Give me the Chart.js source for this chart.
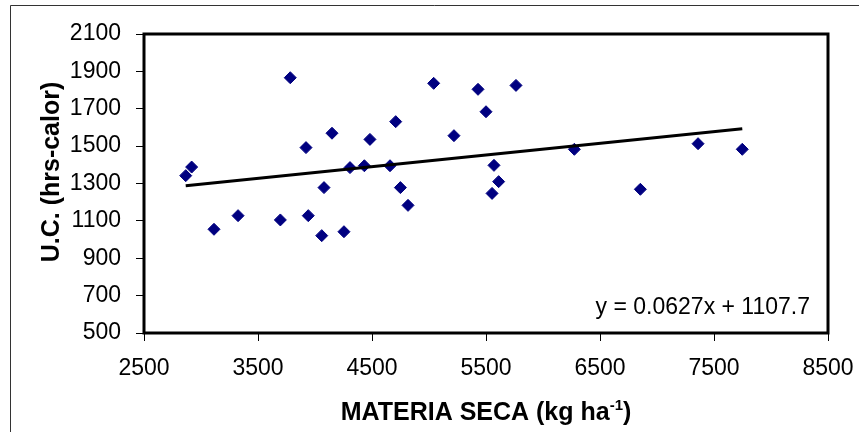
<!DOCTYPE html>
<html>
<head>
<meta charset="utf-8">
<script src="https://cdn.jsdelivr.net/npm/chart.js@4/dist/chart.umd.min.js"></script>
<style>
  html, body { margin: 0; padding: 0; background: #fff; }
  #wrap { width: 859px; height: 432px; }
</style>
</head>
<body>
<div id="wrap"><canvas id="chartCanvas" width="859" height="432"></canvas></div>
<script>
// materia seca (kg/ha) vs unidades calor (hrs-calor)
const materiaSeca = [2866, 2918, 3114, 3325, 3783, 3696, 3921, 3941, 4059, 4079, 4149,
    4254, 4307, 4433, 4482, 4658, 4708, 4749, 4816, 5041, 5219, 5430,
    5500, 5763, 5570, 5611, 5553, 6275, 6854, 7360, 7748];
const unidadesCalor = [1342, 1388, 1055, 1128, 1866, 1105, 1492, 1128, 1021, 1278, 1569,
    1042, 1385, 1395, 1536, 1395, 1631, 1278, 1183, 1836, 1556, 1804,
    1684, 1825, 1397, 1310, 1247, 1483, 1269, 1513, 1483];

// regression shown on the chart
const slope = 0.0627;
const intercept = 1107.7;

const xTicks = [2500, 3500, 4500, 5500, 6500, 7500, 8500];
const yTicks = [500, 700, 900, 1100, 1300, 1500, 1700, 1900, 2100];

const FONT = "'Liberation Sans', Arial, sans-serif";

const points = materiaSeca.map((x, i) => ({x: x, y: unidadesCalor[i]}));
const xMin = Math.min(...materiaSeca);
const xMax = Math.max(...materiaSeca);
const trend = [
    {x: xMin, y: slope * xMin + intercept},
    {x: xMax, y: slope * xMax + intercept},
];

const decorPlugin = {
    id: "decor",
    beforeDraw(chart) {
        const ctx = chart.ctx;
        ctx.save();
        // outer frame (only top and left visible)
        ctx.strokeStyle = "#333";
        ctx.lineWidth = 1;
        ctx.beginPath();
        ctx.moveTo(10.5, chart.height);
        ctx.lineTo(10.5, 5.5);
        ctx.lineTo(chart.width, 5.5);
        ctx.stroke();
        ctx.restore();
    },
    afterDraw(chart) {
        const ctx = chart.ctx;
        const a = chart.chartArea;
        ctx.save();
        ctx.strokeStyle = "#000";
        ctx.lineWidth = 3;
        ctx.strokeRect(a.left, a.top, a.right - a.left, a.bottom - a.top);

        // equation label
        ctx.fillStyle = "#000";
        ctx.font = "23px " + FONT;
        ctx.textAlign = "right";
        ctx.textBaseline = "alphabetic";
        ctx.fillText("y = " + slope + "x + " + intercept, a.right - 18, a.bottom - 19);

        // y axis title
        ctx.save();
        ctx.font = "bold 25px " + FONT;
        ctx.textAlign = "center";
        ctx.textBaseline = "middle";
        ctx.translate(52, 172);
        ctx.rotate(-Math.PI / 2);
        ctx.fillText("U.C. (hrs-calor)", 0, 0);
        ctx.restore();

        // x axis title with superscript
        const main = "MATERIA SECA (kg ha";
        const sup = "-1";
        const close = ")";
        const bigFont = "bold 25px " + FONT;
        const smallFont = "bold 15px " + FONT;
        ctx.font = bigFont;
        const w1 = ctx.measureText(main).width;
        const w3 = ctx.measureText(close).width;
        ctx.font = smallFont;
        const w2 = ctx.measureText(sup).width;
        const total = w1 + w2 + w3;
        const cx = (a.left + a.right) / 2;
        let x = cx - total / 2;
        const base = 420;
        ctx.textAlign = "left";
        ctx.font = bigFont;
        ctx.fillText(main, x, base);
        x += w1;
        ctx.font = smallFont;
        ctx.fillText(sup, x, base - 10);
        x += w2;
        ctx.font = bigFont;
        ctx.fillText(close, x, base);
        ctx.restore();
    }
};

const ctx = document.getElementById("chartCanvas").getContext("2d");

new Chart(ctx, {
    type: "scatter",
    data: {
        datasets: [
            {
                data: points,
                pointStyle: "rectRot",
                pointRadius: 6,
                pointBackgroundColor: "#000080",
                pointBorderColor: "#000080",
                pointBorderWidth: 1,
                order: 2,
            },
            {
                type: "line",
                data: trend,
                borderColor: "#000",
                borderWidth: 3,
                pointRadius: 0,
                fill: false,
                order: 1,
            },
        ],
    },
    options: {
        responsive: false,
        animation: false,
        layout: {padding: {top: 34, right: 31, bottom: 0, left: 0}},
        plugins: {
            legend: {display: false},
            tooltip: {enabled: false},
        },
        scales: {
            x: {
                type: "linear",
                min: 2500,
                max: 8500,
                afterBuildTicks: (scale) => { scale.ticks = xTicks.map(v => ({value: v})); },
                afterFit: (scale) => {
                    scale.height = 99;
                    scale.paddingLeft = 0;
                    scale.paddingRight = 0;
                },
                grid: {drawOnChartArea: false, drawTicks: true, tickLength: 8, tickColor: "#000", tickWidth: 1},
                border: {display: false},
                ticks: {
                    color: "#000",
                    font: {family: FONT, size: 23},
                    padding: 14,
                    maxRotation: 0,
                    callback: (v) => String(v),
                },
            },
            y: {
                min: 500,
                max: 2100,
                afterBuildTicks: (scale) => { scale.ticks = yTicks.map(v => ({value: v})); },
                afterFit: (scale) => {
                    scale.width = 144;
                    scale.paddingTop = 0;
                    scale.paddingBottom = 0;
                },
                grid: {drawOnChartArea: false, drawTicks: true, tickLength: 8, tickColor: "#000", tickWidth: 1},
                border: {display: false},
                ticks: {
                    color: "#000",
                    font: {family: FONT, size: 23},
                    padding: 15,
                    callback: (v) => String(v),
                },
            },
        },
    },
    plugins: [decorPlugin],
});
</script>
</body>
</html>
